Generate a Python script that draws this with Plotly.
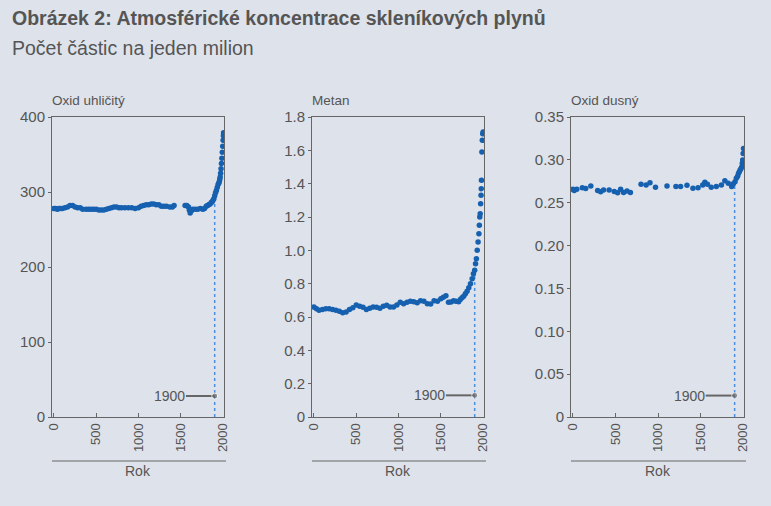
import plotly.graph_objects as go

# data
co2_years = [0, 20, 40, 60, 80, 100, 130, 160, 190, 220, 250, 280, 310, 340, 380, 410, 440,
             470, 500, 530, 560, 590, 620, 650, 680, 710, 740, 770, 800, 840, 880, 920, 960,
             1000, 1030, 1060, 1090, 1120, 1150, 1180, 1210, 1240, 1270, 1300, 1330, 1370,
             1400, 1420, 1550, 1570, 1590, 1600, 1610, 1625, 1640, 1670, 1700, 1730, 1760,
             1780, 1800, 1815, 1830, 1845, 1860, 1870, 1880, 1890, 1900, 1910, 1920, 1930,
             1940, 1950, 1955, 1960, 1965, 1970, 1975, 1980, 1985, 1990, 1995, 2000, 2003, 2005]
co2_ppm = [278, 278, 277, 278, 278, 278, 279, 280, 282, 282, 280, 279, 279, 277, 277, 277, 277,
           277, 277, 276, 276, 276, 277, 278, 279, 280, 280, 279, 279, 279, 279, 279, 278,
           279, 281, 282, 283, 283, 284, 284, 283, 283, 281, 281, 281, 280,
           280, 282, 282, 282, 280, 276, 272, 275, 277, 277, 277, 278, 277,
           278, 281, 282, 283, 284, 286, 287, 289, 291, 295, 299, 302, 306,
           310, 312, 314, 317, 320, 325, 331, 338, 345, 353, 361, 369, 375, 379]

ch4_years = [0, 30, 60, 100, 140, 180, 220, 260, 300, 340, 380, 420, 460, 500, 540, 580, 620,
             660, 700, 740, 780, 820, 860, 900, 940, 980, 1020, 1060, 1100, 1140, 1180, 1220,
             1260, 1300, 1340, 1380, 1420, 1460, 1500, 1530, 1560, 1590, 1620, 1650, 1680,
             1710, 1730, 1750, 1770, 1790, 1810, 1830, 1850, 1870, 1885, 1900, 1910, 1920,
             1930, 1940, 1950, 1955, 1960, 1965, 1970, 1975, 1978, 1980, 1985, 1990, 1995, 2000]
ch4_ppm = [0.66, 0.65, 0.64, 0.645, 0.65, 0.65, 0.645, 0.64, 0.635, 0.625, 0.63, 0.645, 0.655,
           0.672, 0.665, 0.658, 0.645, 0.652, 0.66, 0.658, 0.652, 0.665, 0.67, 0.66, 0.66,
           0.672, 0.688, 0.68, 0.688, 0.695, 0.692, 0.685, 0.698, 0.695, 0.68, 0.678, 0.698,
           0.695, 0.71, 0.718, 0.728, 0.688, 0.69, 0.698, 0.695, 0.692, 0.705, 0.715, 0.725,
           0.74, 0.755, 0.775, 0.80, 0.83, 0.86, 0.88, 0.92, 0.95, 1.0, 1.05, 1.1, 1.15, 1.2,
           1.22, 1.28, 1.33, 1.37, 1.42, 1.59, 1.66, 1.70, 1.71]

n2o_years = [0, 15, 45, 110, 150, 210, 290, 325, 360, 425, 485, 525, 560, 595, 635, 675, 800,
             860, 905, 970, 1105, 1210, 1265, 1340, 1410, 1470, 1525, 1550, 1580, 1625, 1685,
             1745, 1785, 1825, 1865, 1885, 1905, 1920, 1935, 1945, 1955, 1965, 1975, 1985,
             1990, 1995, 2000, 2004]
n2o_ppm = [0.2657, 0.2642, 0.2657, 0.2676, 0.2665, 0.2696, 0.2642, 0.2627, 0.2649, 0.2649,
           0.2630, 0.2615, 0.2657, 0.2619, 0.2638, 0.2619, 0.2715, 0.2707, 0.2734, 0.2680,
           0.2696, 0.2688, 0.2688, 0.2703, 0.2669, 0.2676, 0.2707, 0.2738, 0.2715, 0.2680,
           0.2688, 0.2707, 0.2757, 0.2726, 0.2688, 0.2720, 0.2746, 0.2784, 0.2810, 0.2842,
           0.2860, 0.2881, 0.2900, 0.2920, 0.2960, 0.2998, 0.3074, 0.3132]

panel_titles = ["Oxid uhličitý", "Metan", "Oxid dusný"]
y_ticks = [
    [0, 100, 200, 300, 400],
    [0, 0.2, 0.4, 0.6, 0.8, 1.0, 1.2, 1.4, 1.6, 1.8],
    [0, 0.05, 0.10, 0.15, 0.20, 0.25, 0.30, 0.35],
]
y_ticktext = [
    ["0", "100", "200", "300", "400"],
    ["0", "0.2", "0.4", "0.6", "0.8", "1.0", "1.2", "1.4", "1.6", "1.8"],
    ["0", "0.05", "0.10", "0.15", "0.20", "0.25", "0.30", "0.35"],
]
y_max = [400, 1.8, 0.35]
marker_1900 = [28, 0.13, 0.025]   # height of the "1900" pointer
level_1900 = [295, 0.88, 0.2746]  # top of dotted line
x_ticks = [0, 500, 1000, 1500, 2000]

bg = "#dee2ea"
grey = "#555555"
line_grey = "#666666"
blue = "#1660b0"
font = "Liberation Sans, Arial, sans-serif"

x_domains = [[52 / 771, 224 / 771], [312 / 771, 484 / 771], [571 / 771, 744 / 771]]
y_domain = [(506 - 417) / 506, (506 - 117) / 506]

fig = go.Figure()
series = [(co2_years, co2_ppm), (ch4_years, ch4_ppm), (n2o_years, n2o_ppm)]

for i, (xs, ys) in enumerate(series):
    n = "" if i == 0 else str(i + 1)
    # dotted line at 1900
    fig.add_trace(go.Scatter(
        x=[1900, 1900], y=[0, level_1900[i]], mode="lines",
        line=dict(color="#4a90e2", width=1.5, dash="dot"),
        xaxis="x" + n, yaxis="y" + n, showlegend=False, hoverinfo="skip",
    ))
    fig.add_trace(go.Scatter(
        x=xs, y=ys, mode="markers",
        marker=dict(color=blue, size=5.5),
        xaxis="x" + n, yaxis="y" + n, showlegend=False,
    ))
    # 1900 pointer
    fig.add_trace(go.Scatter(
        x=[1560, 1900], y=[marker_1900[i], marker_1900[i]], mode="lines+markers",
        line=dict(color=line_grey, width=2),
        marker=dict(color=line_grey, size=[0, 6]),
        xaxis="x" + n, yaxis="y" + n, showlegend=False, hoverinfo="skip",
    ))
    fig.add_annotation(
        x=1560, y=marker_1900[i], xref="x" + n, yref="y" + n,
        text="1900", showarrow=False, xanchor="right", yanchor="middle",
        font=dict(size=14, color=grey), xshift=1,
    )

    axis_x = dict(
        domain=x_domains[i], range=[-23, 2010], anchor="y" + n,
        tickvals=x_ticks, ticktext=[str(v) for v in x_ticks], tickangle=-90,
        ticks="inside", ticklen=4, tickcolor=line_grey,
        showline=True, linecolor=line_grey, linewidth=1, mirror=True,
        showgrid=False, zeroline=False, automargin=False,
        tickfont=dict(size=13, color=grey),
    )
    axis_y = dict(
        domain=y_domain, range=[0, y_max[i]], anchor="x" + n,
        tickvals=y_ticks[i], ticktext=y_ticktext[i],
        ticks="outside", ticklen=3, tickcolor=line_grey,
        showline=True, linecolor=line_grey, linewidth=1, mirror=True,
        showgrid=False, zeroline=False, automargin=False,
        tickfont=dict(size=15, color=grey),
    )
    fig.update_layout(**{"xaxis" + n: axis_x, "yaxis" + n: axis_y})

    # panel title
    fig.add_annotation(
        x=x_domains[i][0], y=(506 - 101) / 506, xref="paper", yref="paper",
        text=panel_titles[i], showarrow=False, xanchor="left", yanchor="middle",
        font=dict(size=13.5, color=grey), xshift=-2,
    )
    # line above axis title
    fig.add_shape(
        type="line", xref="paper", yref="paper",
        x0=x_domains[i][0], x1=x_domains[i][1] + 2 / 771,
        y0=(506 - 461) / 506, y1=(506 - 461) / 506,
        line=dict(color=line_grey, width=1),
    )
    fig.add_annotation(
        x=(x_domains[i][0] + x_domains[i][1]) / 2, y=(506 - 471) / 506,
        xref="paper", yref="paper", text="Rok", showarrow=False,
        xanchor="center", yanchor="middle", font=dict(size=14, color=grey),
    )

fig.add_annotation(
    x=12 / 771, y=(506 - 18) / 506, xref="paper", yref="paper",
    text="<b>Obrázek 2: Atmosférické koncentrace skleníkových plynů</b>",
    showarrow=False, xanchor="left", yanchor="middle", xshift=-2,
    font=dict(size=19.5, color=grey),
)
fig.add_annotation(
    x=12 / 771, y=(506 - 48) / 506, xref="paper", yref="paper",
    text="Počet částic na jeden milion",
    showarrow=False, xanchor="left", yanchor="middle", xshift=-2,
    font=dict(size=19.5, color=grey),
)

fig.update_layout(
    width=771, height=506,
    margin=dict(l=0, r=0, t=0, b=0, autoexpand=False),
    paper_bgcolor=bg, plot_bgcolor=bg,
    font=dict(family=font, color=grey),
    showlegend=False,
)

fig.write_html(
    "out.html",
    config={"displayModeBar": False},
    post_script="document.body.style.margin='0';document.body.style.overflow='hidden';",
)
